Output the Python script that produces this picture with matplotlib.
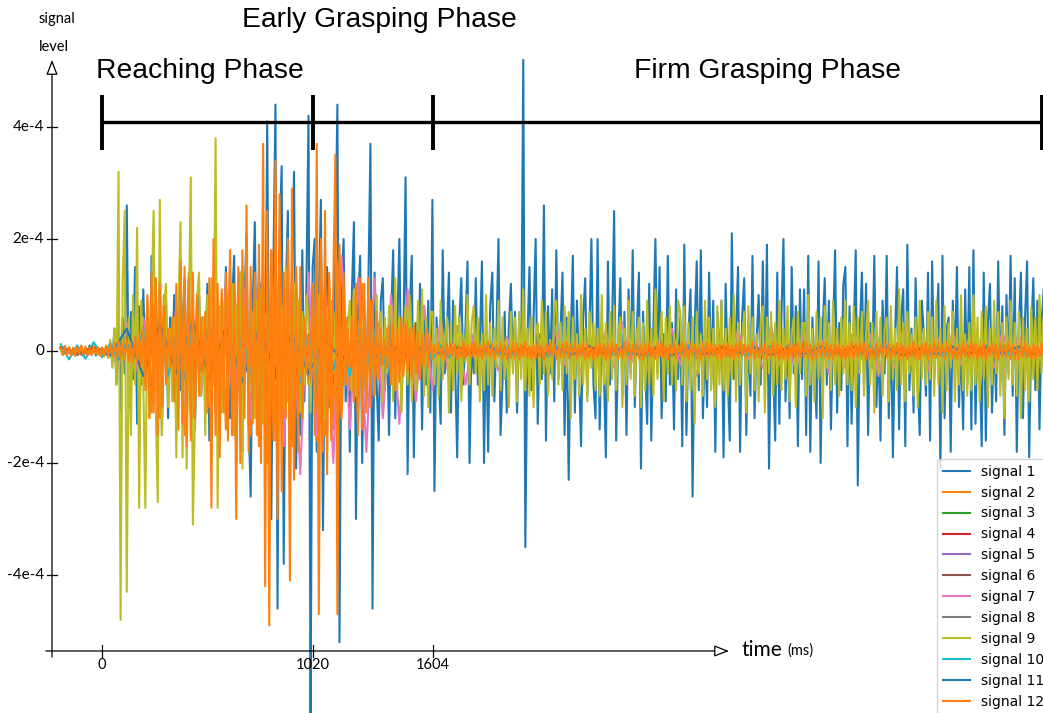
import numpy as np
import matplotlib.pyplot as plt

# sampling of the recorded channels, ms
t_start = -200
step_fast = 10
step_half = 20
step_mid = 40
step_slow = 80

# signal levels, units of 1e-6
signal_1 = [5, -7, 9, -4, 6, -8, 3, -6, 8, -5, 7, -9, 4, -6, 10, -7, 5, -8, 6, -4,
            6, -9, 8, -12, 15, -20, 40, -60, 90, -110, 60, -40, 260, -100, 70, -50, 150, -130, 80, -60,
            110, -40, 60, -90, 170, -30, 50, -80, 120, -150, 40, 90, -120, 60, -30, 100, -60, 30, -70, 50,
            130, -50, 40, -110, 80, -140, 30, 100, -70, 60, -40, 120, -160, 50, 90, -110, 40, -60, 70, -30,
            150, -60, -120, 90, 170, -200, 60, 140, -180, 90, 210, -120, -260, 80, 230, -90, -150, 120, 60, -100,
            410, -120, -300, 150, 440, -460, 200, 330, -380, 100, 250, -230, 150, 320, -210, 90, -150, 180, -90, 120,
            420, -660, 150, 200, -180, 90, 270, -320, 60, 150, -100, 80, -60, 200, 440, -520, 120, 200, -90, 60,
            -180, 100, 230, -300, 80, 170, -200, 60, -90, 120, 370, -460, 140, -60, -160, 90, 130, -70, 40, -150,
            60, 180, -120, 40, 200, -90, 30, 310, -220, 70, 170, -190, 50, -40, 120, -140, 80, -60, 90, -110,
            270, -250, 60, -40, -130, 180, -40, 30, 140, -110, 90, -20, -190, 50, 130, -60, 40, 160, -200, 30,
            -40, 130, -60, 20, 160, -200, 40, -180, 80, 140, -90, 30, 200, -150, -50, 70, -110, 40, 120, -30,
            70, -110, 50, -30, 520, -350, 20, 150, -70, 60, 200, -130, 30, -50, 260, -160, 80, -40, 110, -90,
            180, -50, 30, 140, -150, 60, -230, 20, 170, -110, 90, -40, -170, 60, 130, -80, 30, 200, -60, -120,
            200, -140, 50, -30, -190, 160, -60, 40, 250, -160, 20, 130, -80, 70, -150, 110, -40, 180, -100, 40,
            140, -210, 70, -30, -130, 120, -160, 40, 200, -40, 150, -120, 30, -90, 170, -60, 50, -140, 110, -50,
            60, -170, 190, -150, 30, 110, -260, 40, 160, -70, 180, -120, 20, -100, 140, -60, 90, -180, 70, -30,
            90, -190, 120, -40, -160, 210, -50, 30, 150, -180, 60, 130, -150, 40, -80, 170, -120, 20, 100, -60,
            160, -70, 190, -210, 40, -30, -160, 140, -130, 60, 200, -90, 30, -120, 150, -40, 80, -170, 110, -50,
            110, -150, 170, -180, 60, -20, -120, 160, -200, 40, 130, -60, 90, -140, 30, 180, -110, 50, -70, 120,
            150, -170, 80, -130, 30, 180, -240, 40, 140, -60, 120, -150, 50, -30, 170, -100, 20, -160, 90, -40,
            170, -120, 50, -190, 20, 150, -140, 60, 110, -170, 190, -70, 40, -110, 130, -50, -150, 90, 30, -80,
            140, -160, 160, -50, 30, 120, -210, 170, -120, 40, 60, -180, 90, -30, 150, -100, 20, -140, 110, -60,
            150, -140, 180, -130, 40, -20, -170, 140, -160, 50, 120, -110, 30, -90, 160, -60, 80, -150, 100, -40,
            170, -80, 130, -180, 40, 140, -120, 60, 160, -190, 30, 130, -70, 90, -140, 50, 110]
signal_2 = [6, -5, 7, -6, 5, -7, 6, -5, 7, -6,
            5, -7, 8, -10, 12, -15, 18, -20, 25, -30,
            -60, 90, -110, 130, -120, 100, -60, 40, -90, 130,
            -150, 140, -120, 90, -60, 50, -100, 140, -130, 110,
            -140, 160, -150, 130, -90, 60, -150, 140, -170, 150,
            -200, 180, -160, 190, -140, 120, -170, 150, -90, 50,
            -60, 120, -160, 180, -150, 130, -140, 160, -120, 60,
            -70, 110, -130, 120, -100, 90, -70, 50, -30, 40,
            -40, 35, -45, 30, -40, 35, -30, 25, -35, 30,
            8, -6, 9, -7, 5, -10, 7, -8, 6, -9, 10, -5, 8, -7, 9, -6, 5, -8, 7, -10,
            6, -9, 8, -5, 10, -7, 9, -6, 7, -8, 5, -10, 6, -9, 8, -7, 10, -5, 9, -6,
            7, -8, 5, -9, 6, -10, 8, -7, 9, -5, 10, -6, 7, -8, 5, -9, 6, -10, 8, -7,
            9, -5, 10, -6, 7, -8, 5, -9, 6, -10, 8, -7, 9, -5, 10, -6, 7, -8, 5, -9,
            6, -10, 8, -7, 9, -5, 10, -6, 7, -8, 5, -9, 6, -10, 8, -7, 9, -5, 10, -6,
            7, -8, 5, -9, 6, -10, 8, -7, 9, -5, 10, -6, 7, -8, 5, -9, 6, -10, 8, -7,
            9, -5, 10, -6, 7, -8, 5, -9, 6, -10, 8, -7, 9, -5, 10, -6, 7, -8, 5, -9,
            6, -10, 8, -7, 9, -5, 10, -6, 7]
signal_3 = [6, -5, 7, -4, 30, -40, 35, -45, 50, -30, 40, -35, 45, -50, 30, -40,
            25, -20, 18, -15, 12, -10, 9, -6, 5, -8, 7, -4, 9, -5, 6, -7, 8, -9, 4, -6,
            7, -5, 8, -7, 6, -9, 5, -4, 8, -6, 9, -7, 5, -8, 6, -5, 7, -9, 6, -4, 8, -7, 5, -6]
signal_4 = [5, -7, 6, -5, 25, -35, 40, -30, 45, -50, 35, -40, 30, -45, 40, -35,
            22, -18, 15, -12, 10, -9, 7, -5, 8, -6, 4, -9, 7, -5, 6, -8, 9, -4, 5, -7,
            6, -8, 5, -9, 7, -4, 6, -5, 8, -7, 9, -6, 4, -8, 5, -7, 6, -9, 8, -5, 7, -4, 9, -6]
signal_5 = [7, -4, 5, -6, 35, -30, 45, -40, 40, -55, 50, -35, 40, -30, 35, -45,
            20, -16, 14, -11, 9, -8, 6, -7, 5, -9, 8, -6, 4, -7, 9, -5, 6, -8, 7, -4,
            5, -9, 8, -6, 7, -5, 4, -8, 9, -7, 6, -5, 8, -4, 7, -9, 5, -6, 8, -7, 4, -5, 9, -8]
signal_6 = [4, -6, 8, -5, 20, -30, 30, -35, 40, -35, 45, -30, 35, -40, 30, -25,
            18, -15, 12, -14, 8, -10, 6, -5, 9, -7, 4, -8, 6, -9, 5, -4, 7, -6, 8, -5,
            9, -4, 6, -8, 5, -7, 8, -6, 4, -9, 7, -5, 6, -8, 9, -7, 5, -4, 8, -6, 7, -9, 6, -5]
signal_7 = [5, -4, 6, -5, 4, -6, 8,
            -30, 50, -40, 60, -50, 70,
            -60, 80, -90, 70, -80, 100,
            -100, 120, -130, 150, -120, 140, -180,
            150, -170, 130, -220, 140, -150,
            120, -200, 170, -140, 130, -180,
            130, -120, 100, -130, 110, -90,
            80, -70, 60, -50, 45, -60,
            30, -40, 20, -35, 25, -15, 40, -30, 20, -35,
            45, -25, 15, -40, 30, -20, 35, -30, 50, -25,
            20, -35, 30, -15, 40, -25, 20, -45, 30, -20,
            25, -35, 40, -20, 15, -30, 45, -25, 20, -35,
            35, -20, 25, -40, 20, -30, 40, -15, 30, -45,
            15, -30, 40, -25, 20, -35, 30, -15, 35, -25,
            25, -40, 20, -30, 35, -15, 30, -35, 20, -25]
signal_8 = [6, -6, 5, -7, 30, -25, 35, -45, 45, -40, 40, -50, 45, -35, 25, -30,
            16, -14, 12, -10, 9, -8, 7, -4, 6, -9, 5, -7, 8, -6, 4, -5, 9, -8, 7, -6,
            5, -7, 9, -4, 6, -8, 7, -5, 4, -9, 8, -6, 5, -7, 9, -4, 6, -8, 7, -5, 8, -9, 4, -6]
signal_9 = [4, -6, 5, -3, 7, -5, 3, -6, 5, -4, 6, -3, 4, -7, 5, -4, 3, -5, 6, -4,
            3, -10, 8, -12, 20, -30, 40, -60, 320, -480, 120, 250, -430, 60, -150, 100, -60, 220, -280, 90,
            -60, -280, 80, -120, 90, 250, -100, -270, 270, -150, 80, 120, -100, 40, -90, 60, -190, 70, 230, -190,
            110, -210, 60, 310, -310, -120, 90, 140, -80, 60, -150, 100, -90, 130, -60, 380, -280, 80, -110, 60,
            100, -90, 40, 120, -150, 80, -60, 140, -210, 50, 100, -80, -40, 70, -120, 90, -60, 110, -130, 60,
            70, -120, 90, -60, 30, 110, -130, 80, -100, 150, -90, 60, -80, 120, -40, 90, -110, 70, -60, 100,
            60, -110, 70, -90, 40, 100, -70, 60, -120, 80, -60, 90, -40, 70, -100, 50, -80, 110, -60, 40,
            90, -70, 110, -80, 30, 60, -50, 90, -100, 70, -60, 40, -80, 100, -50, 70, -90, 60, -40, 80,
            80, -90, 130, -70, 60, -110, 20, 80, -60, 100, -90, 50, -70, 90, -40, 110, -80, 60, -100, 70,
            70, -60, 40, -80, 90, -50, 20, 60, -110, 50, -70, 80, -40, 60, -90, 30, -20, 100, -60, 50,
            80, -40, 60, -90, 30, -70, 100, -60, 50, -80, 40, -30, 90, -70, 60, -50, 20, -100, 70, -40,
            60, -90, 70, -50, 110, -70, 40, -80, 60, -100, 30, 50, -60, 90, -40, 70, -80, 20, -50, 80,
            90, -60, 50, -70, 80, -40, 70, -120, 60, -50, 30, -80, 100, -60, 40, -90, 70, -30, 50, -70,
            40, -80, 100, -60, 50, -90, 70, -50, 80, -70, 30, 60, -100, 40, -60, 90, -50, 70, -80, 30,
            60, -100, 50, -70, 90, -60, 40, -80, 110, -50, 20, 70, -90, 60, -40, 80, -60, 30, -70, 90,
            70, -60, 80, -90, 50, -70, 60, -130, 70, -40, 30, -80, 90, -50, 60, -70, 40, -100, 80, -60,
            90, -70, 40, -80, 60, -50, 100, -90, 50, -60, 20, 70, -110, 80, -40, 60, -70, 30, -90, 50,
            80, -110, 60, -40, 70, -80, 50, -60, 90, -70, 40, -50, 80, -90, 30, 60, -100, 70, -40, 50,
            50, -80, 100, -60, 40, -90, 70, -50, 60, -120, 80, -30, 50, -70, 90, -60, 40, -80, 60, -40,
            90, -60, 50, -70, 80, -100, 60, -40, 70, -80, 30, 90, -60, 50, -110, 70, -40, 60, -80, 40,
            60, -90, 80, -50, 40, -70, 110, -60, 50, -90, 70, -40, 30, -80, 60, -100, 90, -50, 40, -60,
            70, -50, 60, -80, 90, -60, 40, -110, 80, -70, 50, -30, 70, -90, 40, -60, 100, -70, 30, -80,
            50, -70, 100, -60, 60, -90, 70, -50, 80, -100, 40, -60, 90, -40, 70, -80, 50, -120, 60, -50,
            90, -60, 50, -80, 70, -120, 60, -70, 40, -90, 80, -50, 60, -70, 100, -40, 60]
signal_10 = [12, -15, 10, -14, 16, -11, 13, -16, 14, -12,
             40, -60, 55, -45, 30, -50, 45, -35, 50, -40,
             35, -45, 30, -40, 50, -35, 45, -30, 40, -55,
             30, -40, 45, -35, 25, -45, 40, -30, 35, -25,
             20, -25, 15, -20, 12, -15, 10, -12, 8, -10,
             8, -6, 10, -7, 5, -9, 7, -8, 6, -10, 9, -5, 8, -7, 10, -6, 5, -8, 7, -9,
             6, -10, 8, -5, 9, -7, 10, -6, 7, -8, 5, -9, 6, -10, 8, -7, 9, -5, 10, -6,
             7, -8, 5, -9, 6, -10, 8, -7, 9, -5, 10, -6, 7, -8, 5, -9, 6, -10, 8, -7,
             9, -5, 10, -6, 7, -8, 5, -9, 6, -10]
signal_11 = [7, -5, 6, -8, 40, -45, 50, -40, 55, -50, 45, -55, 40, -35, 30, -40,
             20, -15, 18, -12, 10, -8, 9, -5, 6, -4, 7, -6, 5, -7, 4, -6, 8, -5, 6, -7,
             4, -8, 5, -6, 7, -4, 6, -7, 5, -6, 8, -4, 7, -5, 6, -8, 4, -6, 7, -5, 6, -4, 8, -7]
signal_12 = [8, -6, 9, -7, 5, -8, 6, -9, 7, -5, 10, -6, 8, -9, 6, -7, 9, -5, 7, -8,
             6, -9, 10, -8, 12, -10, 15, -12, 18, -14, 12, -16, 20, -18, 15, -22, 25, -20, 30, -28,
             40, -70, 100, -120, 140, -110, 130, -150, 120, -100, 80, -60, 40, -30, 60, -90, 120, -140, 160, -130,
             150, -170, 130, -160, 140, -120, 100, -80, 60, -40, 70, -110, 130, -280, 200, -150, 120, -190, 90, -110,
             140, -160, 180, -150, 120, -300, 150, -200, 180, -120, 260, -180, 150, -130, 110, -150, 190, -200, 370, -420,
             250, -490, 180, -160, 340, -300, 280, -250, 140, -120, 200, -410, 290, -230, 110, -180, 150, -120, 60, -40,
             30, -50, 120, -150, 370, -470, 200, -180, 250, -220, 140, -160, 120, 350, -470, 190, -110, 140, -60, 40,
             -30, 60, -90, 120, -150, 130, -140, 120, -110, 130, -100, 90, -80, 70, -50, 40, -25, 20, -30, 45,
             -60, 50, -70, 40, -55, 60, -45, 50, -35, 40, -50, 45, -40, 35, -50, 30, -25, 40, -30, 25,
             -14, 11, -9, 15, -12, 8, -16, 13, -10, 14, -8, 12, -15, 9, -11, 16, -13, 10, -9, 14,
             -12, 15, -10, 9, -14, 13, -8, 16, -11, 12, -15, 10, -9, 14, -13, 11, -16, 8, -12, 15,
             -10, 13, -15, 11, -9, 16, -12, 8, -14, 10, -13, 15, -11, 9, -16, 12, -8, 14, -10, 13,
             -15, 9, -12, 14, -10, 16, -13, 11, -8, 15, -14, 10, -9, 13, -16, 12, -11, 8, -15, 10,
             -11, 14, -9, 12, -16, 10, -13, 15, -8, 11, -14, 9, -12, 16, -10, 13, -15, 11, -9, 12,
             -13, 10, -16, 12, -9, 15, -11, 8, -14, 13, -10, 16, -12, 9, -15, 11, -8, 14, -13, 10,
             -9, 16, -12, 10, -15, 13, -8, 11, -14, 9, -16, 12, -10, 15, -11, 13, -9, 10, -14, 12,
             -16, 11, -10, 14, -12, 9, -15, 13, -11, 16, -8, 12, -13, 10, -9, 15, -14, 11, -12, 8,
             -12, 13, -14, 9, -10, 16, -11, 12, -15, 10, -13, 8, -16, 14, -9, 11, -12, 15, -10, 13,
             -10, 15, -13, 11, -16, 8, -12, 14, -9, 13, -11, 16, -14, 10, -15, 12, -8, 11, -13, 9,
             -14, 9, -11, 16, -13, 12, -10, 15, -8, 14, -16, 11, -12, 9, -15, 13, -11, 10, -9, 16,
             -11, 12, -15, 10, -9, 14, -16, 13, -12, 8, -14, 11, -10, 16, -13, 9, -15, 12, -8, 14,
             -16, 10, -12, 15, -11, 13, -9, 11, -14, 16, -10, 12, -13, 8, -15, 10, -12, 14, -9, 11,
             -13, 16, -10, 12, -14, 9, -11, 15, -16, 10, -8, 13, -12, 11, -15, 14, -9, 12, -10, 16,
             -12, 11, -14, 9, -16, 13, -10, 15, -11, 8, -13, 12, -15, 10, -9, 14, -12]

# phase boundaries (ms) and their names
phase_edges = [0, 1020, 1604, 4550]
phase_names = ['Reaching Phase', 'Early Grasping Phase', 'Firm Grasping Phase']
y_ticks = [4e-4, 2e-4, 0, -2e-4, -4e-4]
y_tick_labels = ['4e-4', '2e-4', '0', '-2e-4', '-4e-4']
x_ticks = [0, 1020, 1604]

# canvas layout: where t=0 / level=0 sit and how large one unit is, in pixels
W, H = 1043, 713
X0_PX, PX_PER_MS = 102, 0.2065
Y0_PX, PX_PER_LEVEL = 351, 56 / 1e-4


def to_data(x, y):
    return (x - X0_PX) / PX_PER_MS, (Y0_PX - y) / PX_PER_LEVEL


fig = plt.figure(figsize=(W / 100, H / 100), dpi=100)
ax = fig.add_axes([0, 0, 1, 1])
ax.axis('off')
left, top = to_data(0, 0)
right, bottom = to_data(W, H)
ax.set_xlim(left, right)
ax.set_ylim(bottom, top)

channels = [(signal_1, step_fast), (signal_2, step_half), (signal_3, step_slow),
            (signal_4, step_slow), (signal_5, step_slow), (signal_6, step_slow),
            (signal_7, step_mid), (signal_8, step_slow), (signal_9, step_fast),
            (signal_10, step_mid), (signal_11, step_slow), (signal_12, step_fast)]
for n, (vals, step) in enumerate(channels, start=1):
    t = t_start + step * np.arange(len(vals))
    ax.plot(t, np.array(vals) * 1e-6, lw=1.5, label=f'signal {n}')

# hand drawn axes with hollow arrow heads
head = dict(arrowstyle='-|>,head_width=0.35,head_length=0.9', fc='white',
            ec='black', lw=0.9, shrinkA=0, shrinkB=0)
ax.annotate('', xy=to_data(52, 60), xytext=to_data(52, 657), arrowprops=head,
            annotation_clip=False)
ax.annotate('', xy=to_data(729, 651), xytext=to_data(46, 651), arrowprops=head,
            annotation_clip=False)

tick_font = dict(family='Lato', color='black')
x1, _ = to_data(47, 0)
x2, _ = to_data(57, 0)
for val, lab in zip(y_ticks, y_tick_labels):
    ax.plot([x1, x2], [val, val], color='black', lw=0.9)
    ax.text(to_data(44, 0)[0], val, lab, ha='right', va='center', fontsize=11, **tick_font)

_, tick_lo = to_data(0, 657)
_, tick_hi = to_data(0, 645)
_, lab_y = to_data(0, 665)
for val in x_ticks:
    ax.plot([val, val], [tick_lo, tick_hi], color='black', lw=0.9)
    ax.text(val, lab_y, str(val), ha='center', va='center', fontsize=10.5, **tick_font)

ax.text(*to_data(57, 19), 'signal', ha='center', va='center', fontsize=10.5, **tick_font)
ax.text(*to_data(54, 47), 'level', ha='center', va='center', fontsize=10.5, **tick_font)
ax.text(*to_data(741, 650), 'time', ha='left', va='center', fontsize=15, **tick_font)
ax.text(*to_data(787, 651), '(ms)', ha='left', va='center', fontsize=10.5, **tick_font)

# phase brackets
_, bar_y = to_data(0, 122)
_, bar_top = to_data(0, 95)
_, bar_bot = to_data(0, 150)
ax.plot([phase_edges[0], phase_edges[-1]], [bar_y, bar_y], color='black', lw=2.4,
        solid_capstyle='butt')
ax.vlines(phase_edges, bar_bot, bar_top, color='black', lw=2.8)
label_pos = [(200, 71), (379, 20), (768, 71)]
for name, (lx, ly) in zip(phase_names, label_pos):
    ax.text(*to_data(lx, ly), name, ha='center', va='center', fontsize=20.3,
            family='Liberation Sans', color='black')

ax.legend(loc='upper left', bbox_to_anchor=(937 / W, 1 - 459 / H),
          bbox_transform=fig.transFigure, borderaxespad=0, fontsize=10)

fig.savefig('out.png', dpi=100)
